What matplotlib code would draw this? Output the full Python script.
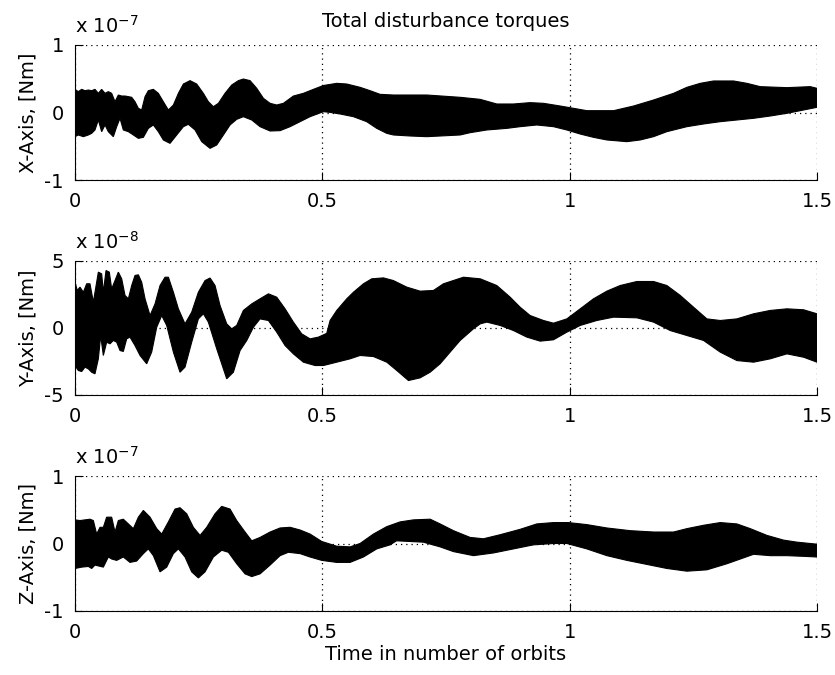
import numpy as np
import matplotlib
matplotlib.use("Agg")
import matplotlib.pyplot as plt

plt.rcParams["font.family"] = ["DejaVu Sans"]
plt.rcParams["mathtext.fontset"] = "dejavusans"
plt.rcParams["axes.unicode_minus"] = False

# Envelopes (upper and lower bounds) of the fast-oscillating disturbance torques.
# Time is in orbits; torque values are in units of the exponent shown on each panel.

# X axis torque (x 1e-7 Nm)
x_upper_t = [0, 0.0067, 0.0135, 0.0202, 0.027, 0.0337, 0.0404, 0.0472, 0.0539, 0.0607,
             0.0674, 0.0741, 0.0809, 0.0876, 0.0944, 0.1011, 0.1079, 0.1146, 0.1213, 0.1281,
             0.1348, 0.1416, 0.1483, 0.1584, 0.1685, 0.1786, 0.1887, 0.1989, 0.209, 0.2191,
             0.2326, 0.246, 0.2595, 0.2696, 0.2797, 0.2899, 0.3033, 0.3168, 0.3303, 0.3404,
             0.3539, 0.3674, 0.3809, 0.3943, 0.4078, 0.4213, 0.4415, 0.4617, 0.482, 0.5022,
             0.5292, 0.5494, 0.5763, 0.5966, 0.6168, 0.6437, 0.7112, 0.7786, 0.819, 0.8527,
             0.8864, 0.9201, 0.9471, 0.981, 1.0078, 1.0347, 1.0887, 1.1291, 1.1696, 1.21,
             1.237, 1.2639, 1.2909, 1.3313, 1.3583, 1.3852, 1.4392, 1.4864, 1.5]
x_upper_v = [0.343, 0.309, 0.343, 0.323, 0.333, 0.323, 0.343, 0.284, 0.343, 0.284,
             0.309, 0.284, 0.160, 0.259, 0.244, 0.244, 0.235, 0.225, 0.160, 0.062,
             0.037, 0.235, 0.323, 0.343, 0.284, 0.160, 0.037, 0.111, 0.284, 0.422,
             0.472, 0.422, 0.284, 0.160, 0.086, 0.136, 0.284, 0.407, 0.472, 0.496,
             0.472, 0.358, 0.210, 0.136, 0.111, 0.136, 0.244, 0.284, 0.343, 0.400,
             0.432, 0.422, 0.373, 0.323, 0.269, 0.259, 0.259, 0.225, 0.195, 0.126,
             0.126, 0.146, 0.136, 0.096, 0.062, 0.027, 0.027, 0.096, 0.185, 0.284,
             0.373, 0.432, 0.467, 0.467, 0.432, 0.383, 0.368, 0.383, 0.358]
x_lower_t = [0, 0.0067, 0.0169, 0.027, 0.0337, 0.0404, 0.0472, 0.0539, 0.0607, 0.0674,
             0.0775, 0.0843, 0.091, 0.0977, 0.1079, 0.118, 0.1281, 0.1382, 0.1483, 0.1584,
             0.1685, 0.1786, 0.1921, 0.2056, 0.2191, 0.2292, 0.2427, 0.2562, 0.273, 0.2865,
             0.3, 0.3134, 0.3269, 0.3404, 0.3573, 0.3741, 0.3943, 0.4146, 0.4348, 0.455,
             0.4752, 0.5022, 0.5157, 0.5359, 0.5629, 0.5898, 0.61, 0.6303, 0.6437, 0.6775,
             0.7112, 0.7786, 0.7988, 0.8325, 0.8729, 0.8999, 0.9336, 0.9673, 0.9943, 1.0213,
             1.0482, 1.0752, 1.1156, 1.1426, 1.1696, 1.1965, 1.237, 1.2707, 1.3044, 1.3718,
             1.4055, 1.4392, 1.4729, 1.5]
x_lower_v = [-0.358, -0.333, -0.358, -0.333, -0.309, -0.259, -0.111, -0.284, -0.185, -0.284,
             -0.358, -0.210, -0.086, -0.259, -0.284, -0.333, -0.383, -0.368, -0.235, -0.185,
             -0.284, -0.407, -0.457, -0.333, -0.210, -0.175, -0.259, -0.432, -0.531, -0.481,
             -0.333, -0.185, -0.101, -0.062, -0.111, -0.210, -0.274, -0.269, -0.210, -0.136,
             -0.062, 0.012, 0.002, -0.022, -0.062, -0.136, -0.235, -0.309, -0.333, -0.348,
             -0.358, -0.333, -0.299, -0.259, -0.235, -0.210, -0.185, -0.210, -0.259, -0.319,
             -0.368, -0.407, -0.432, -0.407, -0.358, -0.284, -0.210, -0.170, -0.136, -0.086,
             -0.052, -0.012, 0.037, 0.077]

# Y axis torque (x 1e-8 Nm)
y_upper_t = [0, 0.0047, 0.0101, 0.0169, 0.0236, 0.0303, 0.0371, 0.0472, 0.0539, 0.0573,
             0.0627, 0.0694, 0.0741, 0.0809, 0.0876, 0.0944, 0.1011, 0.1079, 0.1146, 0.1213,
             0.1281, 0.1348, 0.1416, 0.1517, 0.1618, 0.1719, 0.1820, 0.1888, 0.1989, 0.2090,
             0.2224, 0.2359, 0.2494, 0.2629, 0.2730, 0.2831, 0.2932, 0.3067, 0.3168, 0.3269,
             0.3404, 0.3573, 0.3741, 0.3910, 0.4078, 0.4247, 0.4415, 0.4584, 0.4752, 0.4921,
             0.5089, 0.5157, 0.5292, 0.5494, 0.5629, 0.5831, 0.5999, 0.6235, 0.6437, 0.6707,
             0.6977, 0.7246, 0.7449, 0.7853, 0.8193, 0.8527, 0.8797, 0.8999, 0.9201, 0.9471,
             0.9673, 0.9943, 1.0213, 1.0482, 1.0752, 1.1021, 1.1358, 1.1696, 1.1965, 1.2235,
             1.2505, 1.2774, 1.3044, 1.3381, 1.3718, 1.4055, 1.4392, 1.4729, 1.5]
y_upper_v = [3.42, 2.80, 3.05, 2.67, 3.30, 3.30, 1.93, 4.17, 4.04, 2.67,
             4.29, 4.17, 2.92, 3.54, 4.17, 3.67, 2.43, 2.18, 3.17, 3.92,
             3.97, 3.42, 2.18, 0.93, 1.80, 3.17, 3.79, 3.79, 2.67, 1.43,
             0.31, 1.18, 2.67, 3.54, 3.73, 3.17, 1.68, 0.31, -0.06, 0.19,
             1.31, 1.80, 2.18, 2.55, 2.30, 1.43, 0.44, -0.44, -0.81, -0.68,
             -0.40, 0.56, 1.31, 2.18, 2.67, 3.30, 3.67, 3.74, 3.54, 3.05,
             2.75, 2.80, 3.30, 3.79, 3.67, 3.17, 2.30, 1.55, 0.93, 0.56,
             0.36, 0.68, 1.43, 2.18, 2.75, 3.17, 3.47, 3.47, 3.17, 2.43,
             1.55, 0.68, 0.56, 0.68, 1.06, 1.31, 1.43, 1.36, 1.06]
y_lower_t = [0, 0.0067, 0.0135, 0.0202, 0.027, 0.0337, 0.0404, 0.0472, 0.0519, 0.0573,
             0.0640, 0.0708, 0.0775, 0.0843, 0.0910, 0.0977, 0.1045, 0.1112, 0.1213, 0.1315,
             0.1449, 0.1550, 0.1652, 0.1753, 0.1854, 0.1989, 0.2123, 0.2224, 0.2359, 0.2494,
             0.2595, 0.2696, 0.2865, 0.3067, 0.3202, 0.3337, 0.3472, 0.3607, 0.3741, 0.3910,
             0.4078, 0.4247, 0.4415, 0.4617, 0.4853, 0.5022, 0.5292, 0.5561, 0.5763, 0.6033,
             0.6303, 0.6505, 0.6741, 0.6977, 0.7179, 0.7381, 0.7583, 0.7786, 0.8055, 0.8193,
             0.8325, 0.8595, 0.8864, 0.9134, 0.9403, 0.9673, 0.9943, 1.0213, 1.0549, 1.0887,
             1.1358, 1.1696, 1.2033, 1.237, 1.2707, 1.3044, 1.3381, 1.3718, 1.4055, 1.4392,
             1.4729, 1.5]
y_lower_v = [-2.80, -3.17, -3.25, -2.92, -3.05, -3.30, -3.42, -2.30, -0.56, -2.05,
             -1.06, -1.18, -0.93, -1.06, -1.68, -1.75, -0.81, -0.68, -1.31, -2.05,
             -2.67, -1.80, 0.06, 0.93, 0.19, -1.80, -3.30, -2.92, -1.06, 0.68,
             1.06, 0.44, -1.55, -3.79, -3.30, -1.68, -0.93, 0.06, 0.68, 0.56,
             -0.31, -1.31, -1.93, -2.55, -2.80, -2.80, -2.55, -2.30, -2.05, -2.13,
             -2.55, -3.17, -3.92, -3.72, -3.30, -2.67, -1.80, -0.93, -0.06, 0.31,
             0.44, 0.19, -0.19, -0.68, -0.98, -0.88, -0.31, 0.19, 0.56, 0.81,
             0.76, 0.44, -0.19, -0.56, -0.93, -1.80, -2.43, -2.55, -2.30, -1.93,
             -2.18, -2.55]

# Z axis torque (x 1e-7 Nm)
z_upper_t = [0, 0.0101, 0.0202, 0.0303, 0.0371, 0.0438, 0.0506, 0.0573, 0.0640, 0.0741,
             0.0809, 0.0876, 0.0977, 0.1079, 0.1180, 0.1281, 0.1382, 0.1517, 0.1652, 0.1753,
             0.1888, 0.2022, 0.2123, 0.2258, 0.2393, 0.2528, 0.2663, 0.2831, 0.2966, 0.3134,
             0.3269, 0.3438, 0.3573, 0.3741, 0.3944, 0.4146, 0.4348, 0.4550, 0.4752, 0.4988,
             0.5292, 0.5561, 0.5763, 0.6033, 0.6303, 0.6572, 0.6842, 0.7181, 0.7381, 0.7651,
             0.7988, 0.8257, 0.8594, 0.8999, 0.9336, 0.9673, 0.9973, 1.0347, 1.0752, 1.1224,
             1.1696, 1.21, 1.237, 1.2707, 1.3044, 1.3381, 1.3651, 1.3988, 1.4325, 1.4594, 1.5]
z_upper_v = [0.35, 0.34, 0.35, 0.36, 0.34, 0.14, 0.24, 0.24, 0.39, 0.39,
             0.17, 0.34, 0.36, 0.29, 0.22, 0.39, 0.49, 0.39, 0.22, 0.14,
             0.32, 0.51, 0.53, 0.44, 0.24, 0.12, 0.24, 0.44, 0.55, 0.51,
             0.34, 0.17, 0.04, 0.09, 0.17, 0.23, 0.24, 0.20, 0.14, 0.03,
             -0.04, -0.05, 0.00, 0.14, 0.25, 0.32, 0.35, 0.36, 0.29, 0.19,
             0.09, 0.07, 0.13, 0.21, 0.29, 0.31, 0.31, 0.28, 0.23, 0.19,
             0.17, 0.17, 0.22, 0.27, 0.31, 0.29, 0.22, 0.12, 0.05, 0.02, -0.01]
z_lower_t = [0, 0.0135, 0.0270, 0.0337, 0.0404, 0.0573, 0.0674, 0.0742, 0.0843, 0.0977,
             0.1112, 0.1247, 0.1382, 0.1483, 0.1584, 0.1719, 0.1854, 0.1989, 0.2090, 0.2224,
             0.2359, 0.2494, 0.2629, 0.2798, 0.2966, 0.3101, 0.3269, 0.3438, 0.3573, 0.3741,
             0.3943, 0.4146, 0.4314, 0.4550, 0.4752, 0.4988, 0.5292, 0.5561, 0.5831, 0.6100,
             0.6370, 0.6500, 0.7040, 0.7381, 0.7651, 0.8055, 0.8460, 0.8864, 0.9268, 0.9673,
             0.9943, 1.0347, 1.0752, 1.1156, 1.1561, 1.1965, 1.237, 1.2774, 1.3179, 1.3449,
             1.3718, 1.4055, 1.4392, 1.4729, 1.5]
z_lower_v = [-0.37, -0.35, -0.34, -0.37, -0.32, -0.35, -0.20, -0.23, -0.25, -0.20,
             -0.28, -0.26, -0.15, -0.08, -0.18, -0.42, -0.35, -0.15, -0.08, -0.20,
             -0.42, -0.51, -0.42, -0.20, -0.10, -0.13, -0.30, -0.45, -0.49, -0.45,
             -0.32, -0.18, -0.13, -0.15, -0.20, -0.25, -0.28, -0.28, -0.20, -0.08,
             -0.02, 0.04, 0.02, -0.05, -0.12, -0.18, -0.14, -0.08, -0.02, 0.00,
             0.00, -0.08, -0.18, -0.25, -0.31, -0.37, -0.41, -0.39, -0.30, -0.23,
             -0.16, -0.18, -0.18, -0.19, -0.20]

panel_labels = ["X-Axis, [Nm]", "Y-Axis, [Nm]", "Z-Axis, [Nm]"]
exponents = ["-7", "-8", "-7"]
y_limits = [1, 5, 1]
x_ticks = [0, 0.5, 1, 1.5]
x_tick_labels = ["0", "0.5", "1", "1.5"]

envelopes = [
    (x_upper_t, x_upper_v, x_lower_t, x_lower_v),
    (y_upper_t, y_upper_v, y_lower_t, y_lower_v),
    (z_upper_t, z_upper_v, z_lower_t, z_lower_v),
]

FS = 14
W, H = 835, 675
fig = plt.figure(figsize=(W / 100, H / 100), dpi=100)

# axes boxes in pixel coordinates: (left, top, right, bottom)
boxes = [(75, 45, 817, 180), (75, 261, 817, 395), (75, 476, 817, 611)]

for i, (box, env) in enumerate(zip(boxes, envelopes)):
    l, t, r, b = box
    ax = fig.add_axes([l / W, 1 - b / H, (r - l) / W, (b - t) / H])
    ut, uv, lt, lv = env
    px = np.concatenate([ut, lt[::-1]])
    py = np.concatenate([uv, lv[::-1]])
    ax.fill(px, py, color="black", lw=0.8, zorder=3)

    lim = y_limits[i]
    ax.set_xlim(0, 1.5)
    ax.set_ylim(-lim, lim)
    ax.set_xticks(x_ticks)
    ax.set_xticklabels(x_tick_labels)
    ax.set_yticks([-lim, 0, lim])
    ax.set_yticklabels([str(-lim), "0", str(lim)])

    ax.set_axisbelow(True)
    ax.grid(True, color="black", linestyle=(0, (1, 3.2)), linewidth=0.9)
    for s in ["top", "right"]:
        ax.spines[s].set_visible(False)
    for s in ["left", "bottom"]:
        ax.spines[s].set_linewidth(0.8)
    ax.tick_params(direction="in", length=5.5, width=0.8, labelsize=FS,
                   top=False, right=False)
    ax.tick_params(axis="x", pad=9)
    ax.tick_params(axis="y", pad=8)

    ax.set_ylabel(panel_labels[i], fontsize=FS)
    ax.yaxis.set_label_coords(-0.051, 0.5)
    ax.text(0, 1 + 12 / (b - t), "x 10$^{%s}$" % exponents[i], transform=ax.transAxes,
            ha="left", va="baseline", fontsize=FS)

    if i == 0:
        ax.set_title("Total disturbance torques", fontsize=FS, pad=13)
    if i == 2:
        ax.set_xlabel("Time in number of orbits", fontsize=FS)
        ax.xaxis.set_label_coords(0.5, -0.255)
        ax.xaxis.label.set_va("top")

fig.savefig("out.png", dpi=100)
